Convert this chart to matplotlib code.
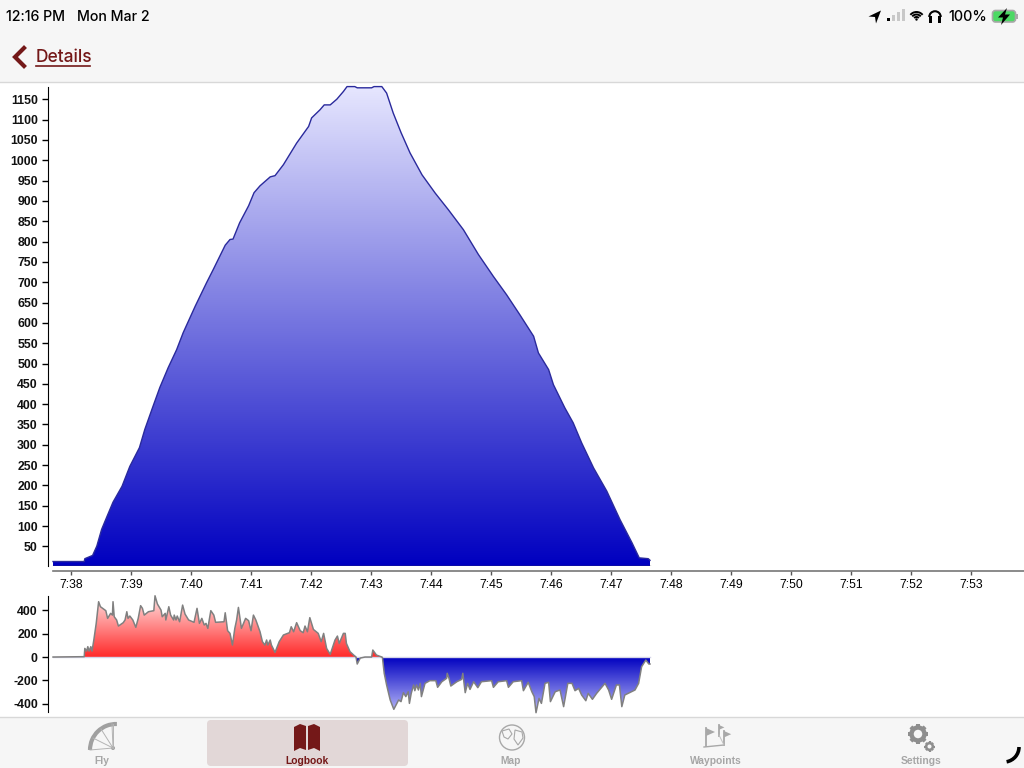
import numpy as np
import matplotlib
matplotlib.use("Agg")
import matplotlib.pyplot as plt
from matplotlib.colors import LinearSegmentedColormap
from matplotlib.patches import Arc, Circle, FancyBboxPatch, Polygon, Rectangle

plt.rcParams["font.family"] = ["Liberation Sans", "DejaVu Sans"]
plt.rcParams["axes.unicode_minus"] = False

# altitude, time in minutes after 7:00
alt_time = [37.70, 38.22, 38.23, 38.36, 38.43, 38.51, 38.60, 38.70, 38.85, 38.98, 39.14, 39.23,
            39.36, 39.48, 39.62, 39.76, 39.87, 40.07, 40.26, 40.37, 40.57, 40.65, 40.70, 40.81,
            40.96, 41.05, 41.15, 41.32, 41.40, 41.54, 41.76, 41.96, 42.01, 42.15, 42.22, 42.32,
            42.43, 42.54, 42.60, 42.73, 42.77, 43.01, 43.05, 43.18, 43.26, 43.37, 43.50, 43.65,
            43.85, 44.07, 44.29, 44.54, 44.79, 45.04, 45.26, 45.48, 45.71, 45.79, 45.96, 46.04,
            46.23, 46.37, 46.51, 46.71, 46.93, 47.15, 47.35, 47.47, 47.62, 47.65]
alt_value = [13, 13, 20, 28, 51, 92, 124, 159, 198, 247, 293, 338,
             392, 441, 490, 534, 576, 641, 699, 731, 791, 805, 806, 846,
             888, 920, 937, 959, 962, 989, 1042, 1083, 1104, 1124, 1136, 1136,
             1150, 1169, 1181, 1181, 1178, 1178, 1181, 1181, 1165, 1116, 1068, 1018,
             964, 919, 878, 829, 768, 714, 669, 620, 567, 526, 485, 448,
             391, 354, 305, 243, 186, 116, 59, 22, 20, 16]

# climb rate
vario_time = [37.70, 38.22, 38.23, 38.26, 38.28, 38.30, 38.33, 38.35, 38.38, 38.42, 38.46, 38.49,
              38.58, 38.61, 38.66, 38.69, 38.70, 38.72, 38.76, 38.79, 38.87, 38.90, 38.93, 38.95,
              38.98, 39.03, 39.08, 39.12, 39.16, 39.19, 39.22, 39.29, 39.38, 39.40, 39.44, 39.50,
              39.52, 39.57, 39.58, 39.63, 39.66, 39.71, 39.72, 39.75, 39.77, 39.81, 39.86, 39.90,
              39.96, 40.05, 40.10, 40.14, 40.18, 40.22, 40.25, 40.28, 40.33, 40.38, 40.41, 40.55,
              40.57, 40.61, 40.65, 40.69, 40.73, 40.76, 40.79, 40.84, 40.91, 40.96, 41.00, 41.04,
              41.08, 41.15, 41.19, 41.23, 41.26, 41.28, 41.32, 41.34, 41.40, 41.47, 41.54, 41.64,
              41.67, 41.71, 41.76, 41.82, 41.87, 41.90, 41.94, 41.98, 42.04, 42.12, 42.17, 42.21,
              42.26, 42.32, 42.40, 42.44, 42.47, 42.54, 42.57, 42.59, 42.65, 42.71, 42.75, 42.77,
              42.82, 42.90, 43.01, 43.03, 43.09, 43.18,
              43.19, 43.22, 43.26, 43.32, 43.38, 43.46, 43.50, 43.54, 43.58, 43.62, 43.64, 43.67,
              43.71, 43.73, 43.76, 43.79, 43.82, 43.84, 43.90, 43.98, 44.08, 44.11, 44.18, 44.26,
              44.27, 44.30, 44.33, 44.43, 44.51, 44.53, 44.57, 44.61, 44.65, 44.71, 44.78, 44.84,
              45.01, 45.04, 45.12, 45.26, 45.29, 45.37, 45.51, 45.54, 45.62, 45.68, 45.72, 45.75,
              45.80, 45.84, 45.90, 45.96, 45.99, 46.07, 46.15, 46.21, 46.28, 46.35, 46.40, 46.46,
              46.51, 46.58, 46.62, 46.69, 46.76, 46.90, 46.96, 47.01, 47.09, 47.14, 47.18, 47.23,
              47.34, 47.40, 47.46, 47.51, 47.58, 47.63, 47.65]
vario_value = [0, 3, 74, 51, 89, 51, 89, 51, 146, 289, 475, 432,
               398, 332, 375, 360, 475, 346, 318, 266, 295, 318, 389, 332,
               352, 318, 255, 332, 441, 418, 360, 389, 398, 526, 455, 403,
               346, 375, 318, 432, 360, 318, 360, 318, 352, 303, 446, 369,
               318, 298, 418, 289, 332, 275, 289, 246, 398, 360, 298, 303,
               380, 226, 203, 103, 246, 318, 426, 246, 332, 312, 226, 360,
               318, 217, 132, 103, 146, 103, 146, 103, 40, 132, 189, 209,
               260, 217, 295, 226, 209, 266, 217, 338, 237, 203, 132, 203,
               74, 23, 146, 180, 117, 203, 203, 117, 46, 17, 0, -60,
               -9, 0, 0, 60, 17, 0,
               -3, -140, -240, -369, -449, -369, -383, -306, -340, -298, -398, -312,
               -240, -289, -240, -283, -226, -340, -226, -203, -203, -260, -212, -183,
               -140, -183, -249, -212, -192, -140, -306, -226, -278, -212, -263, -212,
               -203, -260, -212, -203, -260, -212, -203, -289, -217, -298, -340, -478,
               -355, -398, -226, -217, -383, -298, -283, -426, -226, -226, -289, -269,
               -326, -375, -312, -363, -312, -226, -283, -363, -240, -240, -426, -326,
               -298, -283, -226, -83, -26, -60, -60]

alt_ticks = list(range(50, 1151, 50))
vario_ticks = [-400, -200, 0, 200, 400]
time_ticks = list(range(38, 54))
time_labels = [f"7:{m}" for m in time_ticks]

W, H = 1024, 768
DARK_RED = "#741818"
GREY = "#A6A6A6"
BAR = "#F6F6F6"


def px_axes(left, top, right, bottom, **kw):
    return fig.add_axes([left / W, 1 - bottom / H, (right - left) / W, (bottom - top) / H], **kw)


def gradient_fill(ax, x, y, low, high, colors):
    # vertical gradient cut to the shape under the curve
    poly = ax.fill_between(x, y, 0, facecolor="none", edgecolor="none")
    cmap = LinearSegmentedColormap.from_list("g", colors)
    grad = np.linspace(0, 1, 256).reshape(-1, 1)
    im = ax.imshow(grad, origin="lower", aspect="auto", cmap=cmap,
                   extent=[x[0], x[-1], low, high], interpolation="bilinear")
    im.set_clip_path(poly.get_paths()[0], transform=ax.transData)


fig = plt.figure(figsize=(W / 100, H / 100), dpi=100, facecolor="white")

# 1. app chrome
ui = fig.add_axes([0, 0, 1, 1])
ui.set_xlim(0, W)
ui.set_ylim(H, 0)
ui.axis("off")
ui.add_patch(Rectangle((0, 0), W, 82, fc=BAR, ec="none"))
ui.add_patch(Rectangle((0, 717), W, 51, fc=BAR, ec="none"))
ui.plot([0, W], [82, 82], color="#D8D8D8", lw=1)
ui.plot([0, W], [717, 717], color="#D8D8D8", lw=1)

ui.text(6, 17, "12:16 PM", fontsize=10.2, family="Inter", weight="medium", va="center")
ui.text(77, 17, "Mon Mar 2", fontsize=10.2, family="Inter", weight="medium", va="center")
ui.text(948, 17, "100%", fontsize=10.4, family="Inter", weight="medium", va="center")

ui.plot([24, 15, 24], [48, 57, 66], color=DARK_RED, lw=3, solid_joinstyle="miter")
ui.text(36, 57.5, "Details", fontsize=12.5, family="Inter", weight="medium", color=DARK_RED, va="center")
ui.plot([36, 90], [66, 66], color=DARK_RED, lw=1.2)

# status icons
ui.add_patch(Polygon([(881, 10.5), (868.5, 16.5), (875, 17), (876, 23.5)], fc="black", ec="none"))
for i, col in enumerate(["black", "#C8C8C8", "#C8C8C8", "#C8C8C8"]):
    ui.add_patch(Rectangle((887 + i * 5, 21 - 3 - i * 3), 3, 3 + i * 3, fc=col, ec="none"))
for r in [3, 5.5, 8]:
    ui.add_patch(Arc((916.5, 20), 2 * r, 2 * r, theta1=220, theta2=320, color="black", lw=1.4))
ui.add_patch(Circle((916.5, 19.5), 1.2, fc="black", ec="none"))
ui.add_patch(Arc((935, 17), 11.5, 11.5, theta1=180, theta2=360, color="black", lw=1.5))
ui.add_patch(Rectangle((929.2, 16), 2.8, 6.5, fc="black", ec="none"))
ui.add_patch(Rectangle((938, 16), 2.8, 6.5, fc="black", ec="none"))
ui.add_patch(FancyBboxPatch((992.5, 10.5), 23, 11.5, boxstyle="round,pad=0,rounding_size=3",
                            fc="#4CD964", ec="#A8A8A8", lw=1.2))
ui.add_patch(Rectangle((1016, 14), 1.5, 5, fc="#A8A8A8", ec="none"))
ui.add_patch(Polygon([(1007, 8), (998, 17.5), (1003, 17.5), (1001, 25), (1010, 14.5), (1005, 14.5)],
                     fc="black", ec="none"))

# tab bar
ui.add_patch(FancyBboxPatch((207, 720), 201, 46, boxstyle="round,pad=0,rounding_size=4",
                            fc="#E2D7D7", ec="none"))
for name, cx, col in [("Fly", 102, GREY), ("Logbook", 307, DARK_RED), ("Map", 511, GREY),
                      ("Waypoints", 716, GREY), ("Settings", 921, GREY)]:
    ui.text(cx, 761, name, fontsize=7.4, weight="bold", color=col, ha="center", va="center")

# paraglider
ui.add_patch(Arc((116, 750), 52, 52, theta1=180, theta2=272, color="#A0A0A0", lw=3))
for sx, sy in [(90, 750), (93, 738), (101, 729), (112, 724)]:
    ui.plot([sx, 113], [sy, 748], color="#B4B4B4", lw=0.7)
ui.plot([113, 113], [724, 748], color="#B4B4B4", lw=0.7)
ui.add_patch(Circle((113, 748), 2, fc="#A0A0A0", ec="none"))

# logbook
ui.add_patch(Polygon([(294, 727), (300, 724), (306, 726), (306, 750), (300, 748), (294, 751)],
                     fc=DARK_RED, ec="none"))
ui.add_patch(Polygon([(308, 726), (314, 724), (320, 727), (320, 751), (314, 748), (308, 750)],
                     fc=DARK_RED, ec="none"))

# map globe
ui.add_patch(Circle((512, 737.5), 12.5, fc="none", ec="#A8A8A8", lw=1))
ui.add_patch(Polygon([(502, 731), (509, 729), (512, 734), (508, 739), (504, 737)], fc="none", ec="#A8A8A8", lw=0.8))
ui.add_patch(Polygon([(515, 730), (522, 732), (523, 738), (518, 745), (514, 739)], fc="none", ec="#A8A8A8", lw=0.8))

# waypoints flags
for fx, fy, s in [(706, 728, 1.0), (719, 725, 0.6), (724, 731, 0.8)]:
    ui.plot([fx, fx], [fy, fy + 18 * s], color="#A8A8A8", lw=1.3)
    ui.add_patch(Polygon([(fx, fy), (fx + 9 * s, fy + 4 * s), (fx, fy + 8 * s)], fc="#A8A8A8", ec="none"))
ui.plot([704, 724], [747, 745], color="#A8A8A8", lw=1)
ui.plot([719, 724], [735, 745], color="#C0C0C0", lw=0.7)

# settings gears
for cx, cy, r, lw in [(918, 734, 6.5, 3.2), (929.5, 746.5, 3.3, 1.8)]:
    ui.add_patch(Circle((cx, cy), r, fc="none", ec="#8E8E8E", lw=lw))
    for a in np.arange(0, 360, 45):
        ca, sa = np.cos(np.radians(a)), np.sin(np.radians(a))
        ui.plot([cx + r * ca, cx + (r + r * 0.55) * ca], [cy + r * sa, cy + (r + r * 0.55) * sa],
                color="#8E8E8E", lw=lw * 0.9, solid_capstyle="butt")

# pencil mark
ui.add_patch(Arc((1004, 747), 30, 30, theta1=0, theta2=80, color="black", lw=2.6))

# 2. altitude chart
xlim = (37.608, 53.883)
ax = px_axes(47.5, 87, 1024, 566, facecolor="none")
gradient_fill(ax, alt_time, alt_value, 2, 1190, ["#0000C0", "#E8E8FF"])
ax.plot(alt_time, alt_value, color="#2A2A9C", lw=1.0, clip_on=False)
ax.plot([alt_time[0], alt_time[-1]], [2, 2], color="#444444", lw=1.0)
ax.set_xlim(xlim)
ax.set_ylim(2, 1180)
ax.set_yticks(alt_ticks)
ax.set_xticks(time_ticks)
ax.set_xticklabels(time_labels)
ax.tick_params(axis="y", length=4, width=1, pad=3, labelsize=8.8)
ax.tick_params(axis="x", length=3, width=1, pad=3, labelsize=8.8, color="#555555")
for lab in ax.get_xticklabels() + ax.get_yticklabels():
    lab.set_fontweight("bold")
    lab.set_color("#111111")
ax.spines["top"].set_visible(False)
ax.spines["right"].set_visible(False)
ax.spines["bottom"].set_position(("outward", 3.6))
ax.spines["bottom"].set_bounds(37.70, xlim[1])
ax.spines["bottom"].set_color("#777777")
ax.spines["bottom"].set_linewidth(1.2)

# 3. climb rate chart
ax2 = px_axes(47.5, 596, 1024, 712, facecolor="none")
vt = np.array(vario_time)
vv = np.array(vario_value)
gradient_fill(ax2, vario_time, np.clip(vv, 0, None), 0, 525, ["#FF2A2A", "#FFE6E6"])
gradient_fill(ax2, vario_time, np.clip(vv, None, 0), -480, 0, ["#BCBCFA", "#0000C0"])
ax2.plot(vt, np.zeros(len(vt)), color="#D4D4E8", lw=1.0)
ax2.plot(vt, vv, color="#808080", lw=1.1, clip_on=False)
ax2.set_xlim(xlim)
ax2.set_ylim(-472, 524)
ax2.set_yticks(vario_ticks)
ax2.set_xticks([])
ax2.tick_params(axis="y", length=4, width=1, pad=3, labelsize=8.8)
for lab in ax2.get_yticklabels():
    lab.set_fontweight("bold")
    lab.set_color("#111111")
for s in ["top", "right", "bottom"]:
    ax2.spines[s].set_visible(False)

fig.savefig("out.png", dpi=100)
